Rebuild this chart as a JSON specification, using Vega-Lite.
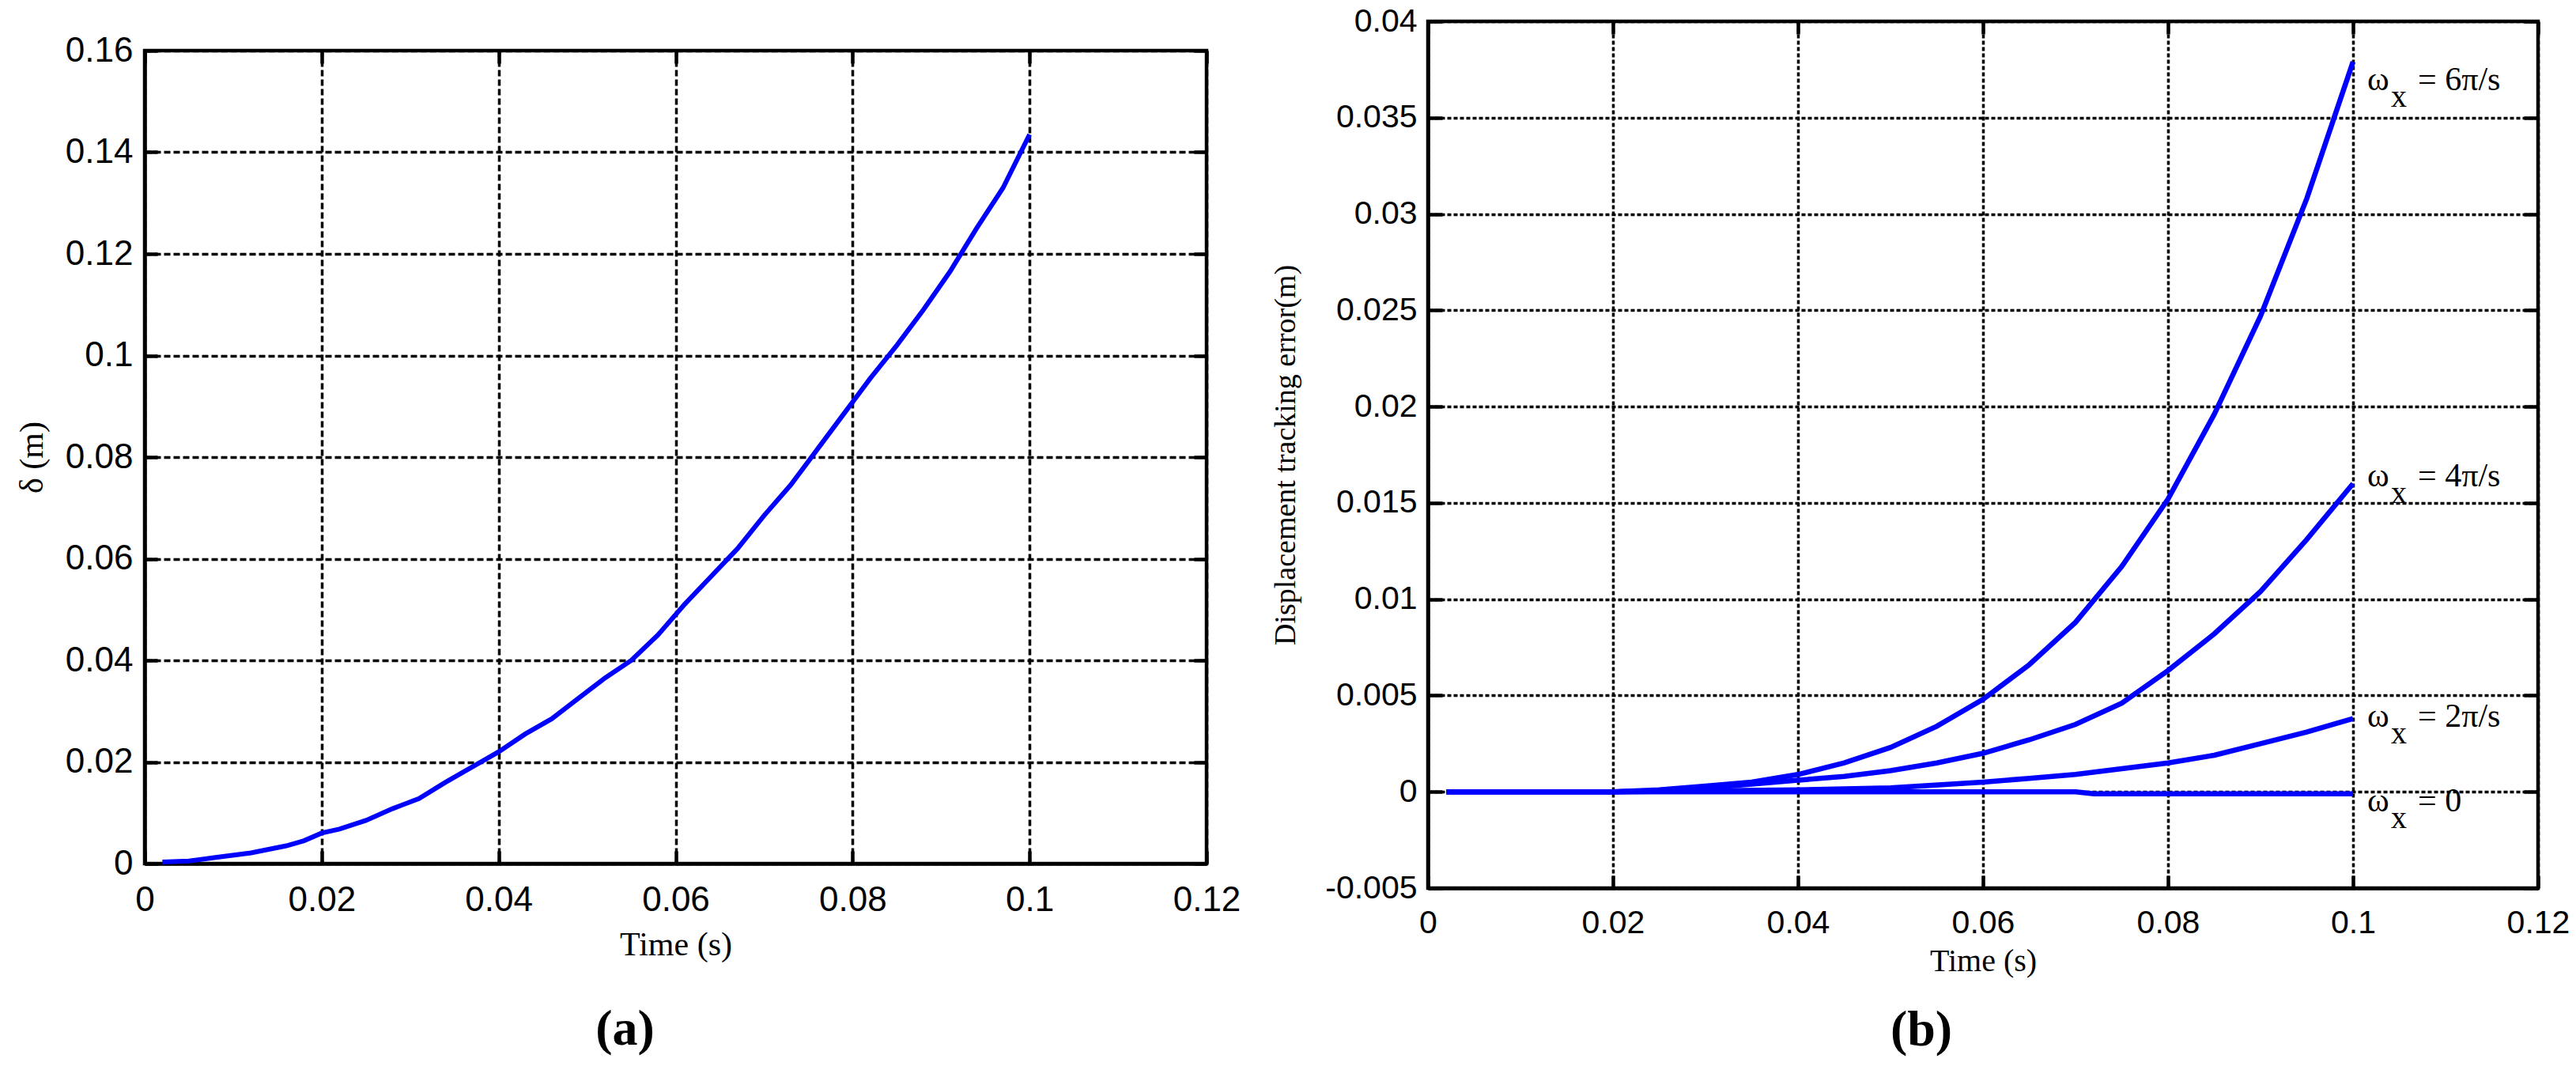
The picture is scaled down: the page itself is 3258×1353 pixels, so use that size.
{
  "$schema": "https://vega.github.io/schema/vega-lite/v6.json",
  "background": "white",
  "padding": {"left": 17, "top": 3, "right": 0, "bottom": 0},
  "spacing": 33,
  "config": {
    "font": "Liberation Sans",
    "view": {"stroke": "black", "strokeWidth": 4.5},
    "axis": {
      "labelColor": "black", "titleColor": "black", "domainColor": "black", "domainWidth": 4.5,
      "tickColor": "black", "tickWidth": 4.5, "gridColor": "black", "gridOpacity": 1,
      "labelFlush": false, "labelOverlap": false, "titleFont": "Liberation Serif", "titleFontWeight": "normal"
    }
  },
  "hconcat": [
    {
      "spacing": 0,
      "vconcat": [
        {"width": 1343, "height": 12, "data": {"values": []}, "mark": "point", "encoding": {}, "view": {"stroke": null}},
        {
          "width": 1343, "height": 1028,
          "title": {"text": "(a)", "orient": "bottom", "font": "Liberation Serif", "fontSize": 64, "fontWeight": "bold", "color": "black", "offset": 55, "dx": -64},
          "data": {"values": [
            {"t": 0.002, "d": 0.0003}, {"t": 0.005, "d": 0.0005}, {"t": 0.008, "d": 0.0012}, {"t": 0.012, "d": 0.0021},
            {"t": 0.016, "d": 0.0035}, {"t": 0.018, "d": 0.0045}, {"t": 0.02, "d": 0.006}, {"t": 0.022, "d": 0.0068},
            {"t": 0.025, "d": 0.0085}, {"t": 0.028, "d": 0.0108}, {"t": 0.031, "d": 0.0128}, {"t": 0.034, "d": 0.016},
            {"t": 0.037, "d": 0.019}, {"t": 0.04, "d": 0.022}, {"t": 0.043, "d": 0.0255}, {"t": 0.046, "d": 0.0285},
            {"t": 0.049, "d": 0.0325}, {"t": 0.052, "d": 0.0365}, {"t": 0.055, "d": 0.04}, {"t": 0.058, "d": 0.045},
            {"t": 0.061, "d": 0.051}, {"t": 0.064, "d": 0.0565}, {"t": 0.067, "d": 0.062}, {"t": 0.07, "d": 0.0685},
            {"t": 0.073, "d": 0.0745}, {"t": 0.076, "d": 0.0815}, {"t": 0.079, "d": 0.0885}, {"t": 0.082, "d": 0.0955},
            {"t": 0.085, "d": 0.102}, {"t": 0.088, "d": 0.109}, {"t": 0.091, "d": 0.1165}, {"t": 0.094, "d": 0.125},
            {"t": 0.097, "d": 0.133}, {"t": 0.1, "d": 0.1435}
          ]},
          "resolve": {"axis": {"x": "independent", "y": "independent"}},
          "layer": [
            {
              "mark": {"type": "line", "color": "#0000FF", "strokeWidth": 6},
              "encoding": {
                "x": {"field": "t", "type": "quantitative", "scale": {"domain": [0, 0.12], "nice": false},
                  "axis": {"orient": "bottom", "values": [0, 0.02, 0.04, 0.06, 0.08, 0.1, 0.12], "labelExpr": "replace(format(datum.value, '~g'), '−', '-')",
                    "title": "Time (s)", "titleFontSize": 42, "titlePadding": 14, "labelFontSize": 44, "labelPadding": 40, "tickSize": -16,
                    "grid": true, "gridDash": [8, 4], "gridWidth": 3.5}},
                "y": {"field": "d", "type": "quantitative", "scale": {"domain": [0, 0.16], "nice": false},
                  "axis": {"orient": "left", "values": [0, 0.02, 0.04, 0.06, 0.08, 0.1, 0.12, 0.14, 0.16], "labelExpr": "replace(format(datum.value, '~g'), '−', '-')",
                    "title": "δ (m)", "titleFontSize": 42, "titlePadding": 20, "labelFontSize": 44, "labelPadding": 31, "tickSize": -16,
                    "grid": true, "gridDash": [8, 4], "gridWidth": 3.5}}
              }
            },
            {
              "mark": {"type": "line", "strokeOpacity": 0},
              "encoding": {
                "x": {"field": "t", "type": "quantitative", "axis": {"orient": "top", "values": [0, 0.02, 0.04, 0.06, 0.08, 0.1, 0.12], "labels": false, "title": null, "tickSize": -16, "grid": false, "domain": false}},
                "y": {"field": "d", "type": "quantitative", "axis": {"orient": "right", "values": [0, 0.02, 0.04, 0.06, 0.08, 0.1, 0.12, 0.14, 0.16], "labels": false, "title": null, "tickSize": -16, "grid": false, "domain": false}}
              }
            }
          ]
        }
      ]
    },
    {
      "width": 1404, "height": 1096,
      "title": {"text": "(b)", "orient": "bottom", "font": "Liberation Serif", "fontSize": 64, "fontWeight": "bold", "color": "black", "offset": 36, "dx": -78},
      "resolve": {"axis": {"x": "independent", "y": "independent"}},
      "layer": [
        {
          "data": {"values": [
            {"w": "6pi", "t": 0.002, "e": 0}, {"w": "6pi", "t": 0.01, "e": 0}, {"w": "6pi", "t": 0.02, "e": 0}, {"w": "6pi", "t": 0.025, "e": 0.0001},
            {"w": "6pi", "t": 0.03, "e": 0.0003}, {"w": "6pi", "t": 0.035, "e": 0.0005}, {"w": "6pi", "t": 0.04, "e": 0.0009}, {"w": "6pi", "t": 0.045, "e": 0.0015},
            {"w": "6pi", "t": 0.05, "e": 0.0023}, {"w": "6pi", "t": 0.055, "e": 0.0034}, {"w": "6pi", "t": 0.06, "e": 0.0048}, {"w": "6pi", "t": 0.065, "e": 0.0066},
            {"w": "6pi", "t": 0.07, "e": 0.0088}, {"w": "6pi", "t": 0.075, "e": 0.0117}, {"w": "6pi", "t": 0.08, "e": 0.0152}, {"w": "6pi", "t": 0.085, "e": 0.0196},
            {"w": "6pi", "t": 0.09, "e": 0.0247}, {"w": "6pi", "t": 0.095, "e": 0.0308}, {"w": "6pi", "t": 0.1, "e": 0.0379},
            {"w": "4pi", "t": 0.002, "e": 0}, {"w": "4pi", "t": 0.02, "e": 0}, {"w": "4pi", "t": 0.025, "e": 0.00005}, {"w": "4pi", "t": 0.03, "e": 0.0002},
            {"w": "4pi", "t": 0.035, "e": 0.0004}, {"w": "4pi", "t": 0.04, "e": 0.0006}, {"w": "4pi", "t": 0.045, "e": 0.0008}, {"w": "4pi", "t": 0.05, "e": 0.0011},
            {"w": "4pi", "t": 0.055, "e": 0.0015}, {"w": "4pi", "t": 0.06, "e": 0.002}, {"w": "4pi", "t": 0.065, "e": 0.0027}, {"w": "4pi", "t": 0.07, "e": 0.0035},
            {"w": "4pi", "t": 0.075, "e": 0.0046}, {"w": "4pi", "t": 0.08, "e": 0.0063}, {"w": "4pi", "t": 0.085, "e": 0.0082}, {"w": "4pi", "t": 0.09, "e": 0.0104},
            {"w": "4pi", "t": 0.095, "e": 0.0131}, {"w": "4pi", "t": 0.1, "e": 0.016},
            {"w": "2pi", "t": 0.002, "e": 0}, {"w": "2pi", "t": 0.02, "e": 0}, {"w": "2pi", "t": 0.03, "e": 0.00005}, {"w": "2pi", "t": 0.04, "e": 0.0001},
            {"w": "2pi", "t": 0.05, "e": 0.0002}, {"w": "2pi", "t": 0.06, "e": 0.0005}, {"w": "2pi", "t": 0.065, "e": 0.0007}, {"w": "2pi", "t": 0.07, "e": 0.0009},
            {"w": "2pi", "t": 0.075, "e": 0.0012}, {"w": "2pi", "t": 0.08, "e": 0.0015}, {"w": "2pi", "t": 0.085, "e": 0.0019}, {"w": "2pi", "t": 0.09, "e": 0.0025},
            {"w": "2pi", "t": 0.095, "e": 0.0031}, {"w": "2pi", "t": 0.1, "e": 0.0038},
            {"w": "0", "t": 0.002, "e": 0}, {"w": "0", "t": 0.07, "e": 0}, {"w": "0", "t": 0.072, "e": -0.0001}, {"w": "0", "t": 0.1, "e": -0.0001}
          ]},
          "mark": {"type": "line", "color": "#0000FF", "strokeWidth": 6.5},
          "encoding": {
            "detail": {"field": "w", "type": "nominal"},
            "x": {"field": "t", "type": "quantitative", "scale": {"domain": [0, 0.12], "nice": false},
              "axis": {"orient": "bottom", "values": [0, 0.02, 0.04, 0.06, 0.08, 0.1, 0.12], "labelExpr": "replace(format(datum.value, '~g'), '−', '-')",
                "title": "Time (s)", "titleFontSize": 40, "titlePadding": 8, "labelFontSize": 41, "labelPadding": 40, "tickSize": -16,
                "grid": true, "gridDash": [5, 3], "gridWidth": 3.5}},
            "y": {"field": "e", "type": "quantitative", "scale": {"domain": [-0.005, 0.04], "nice": false},
              "axis": {"orient": "left", "values": [-0.005, 0, 0.005, 0.01, 0.015, 0.02, 0.025, 0.03, 0.035, 0.04], "labelExpr": "replace(format(datum.value, '~g'), '−', '-')",
                "title": "Displacement tracking error(m)", "titleFontSize": 38, "titlePadding": 30, "labelFontSize": 41, "labelPadding": 32, "tickSize": -18,
                "grid": true, "gridDash": [5, 3], "gridWidth": 3.5}}
          }
        },
        {
          "data": {"values": [{"t": 0.1, "e": 0.0379}]},
          "mark": {"type": "line", "strokeOpacity": 0},
          "encoding": {
            "x": {"field": "t", "type": "quantitative", "axis": {"orient": "top", "values": [0, 0.02, 0.04, 0.06, 0.08, 0.1, 0.12], "labels": false, "title": null, "tickSize": -16, "grid": false, "domain": false}},
            "y": {"field": "e", "type": "quantitative", "axis": {"orient": "right", "values": [-0.005, 0, 0.005, 0.01, 0.015, 0.02, 0.025, 0.03, 0.035, 0.04], "labels": false, "title": null, "tickSize": -18, "grid": false, "domain": false}}
          }
        },
        {
          "data": {"name": "labels", "values": [
            {"t": 0.1, "e": 0.03695, "label": "= 6π/s"},
            {"t": 0.1, "e": 0.01638, "label": "= 4π/s"},
            {"t": 0.1, "e": 0.0039, "label": "= 2π/s"},
            {"t": 0.1, "e": -0.0005, "label": "= 0"}
          ]},
          "layer": [
            {"mark": {"type": "text", "text": "ω", "align": "left", "baseline": "middle", "dx": 18, "font": "Liberation Serif", "fontSize": 42, "color": "black"},
             "encoding": {"x": {"field": "t", "type": "quantitative", "axis": null}, "y": {"field": "e", "type": "quantitative", "axis": null}}},
            {"mark": {"type": "text", "text": "x", "align": "left", "baseline": "middle", "dx": 48, "dy": 22, "font": "Liberation Serif", "fontSize": 40, "color": "black"},
             "encoding": {"x": {"field": "t", "type": "quantitative", "axis": null}, "y": {"field": "e", "type": "quantitative", "axis": null}}},
            {"mark": {"type": "text", "align": "left", "baseline": "middle", "dx": 82, "font": "Liberation Serif", "fontSize": 42, "color": "black"},
             "encoding": {"x": {"field": "t", "type": "quantitative", "axis": null}, "y": {"field": "e", "type": "quantitative", "axis": null}, "text": {"field": "label"}}}
          ]
        }
      ]
    }
  ]
}
